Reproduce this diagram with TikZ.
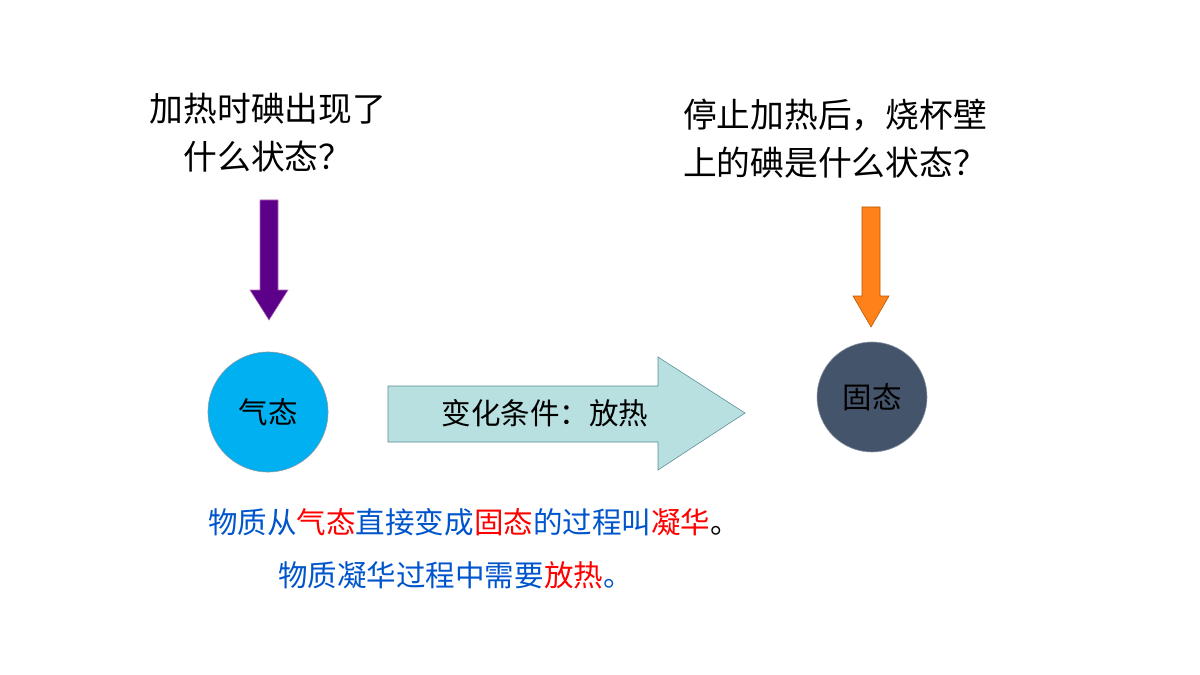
\documentclass[tikz,border=0pt]{standalone}
\usepackage{fontspec}
\newfontfamily\cjk{Noto Sans CJK SC}
\usetikzlibrary{positioning}
\definecolor{gasblue}{HTML}{00B0F0}
\definecolor{solidgrey}{HTML}{44546A}
\definecolor{flowfill}{HTML}{B8E0E0}
\definecolor{flowline}{HTML}{5A8A96}
\definecolor{txtblue}{HTML}{0055CC}
\definecolor{txtred}{HTML}{FF0000}
\begin{document}
\begin{tikzpicture}[x=0.025cm,y=-0.025cm]
    \tikzstyle{question}=[font=\cjk\fontsize{24}{34}\selectfont,align=center]
    \tikzstyle{state}=[circle,font=\cjk\fontsize{21}{25}\selectfont,draw=solidgrey!60]
    \tikzstyle{remark}=[font=\cjk\fontsize{21}{25}\selectfont,anchor=west,inner sep=0pt]
    \useasboundingbox (0,0) rectangle (1200,675);
    \node[question] (Q_left) at (268,133) {加热时碘出现了\\什么状态？};
    \node[question] (Q_right) at (835,139) {停止加热后，烧杯壁\\上的碘是什么状态？};
    \node[state,fill=gasblue,minimum size=120\pgflinewidth*0+3cm] (S_gas) at (268,412) {气态};
    \node[state,fill=solidgrey,minimum size=2.75cm] (S_solid) at (872,397) {固态};
    % pointer arrows
    \draw[fill=violet!80!blue!90!black,draw=violet!60] (260,200) -- (278,200) -- (278,290) -- (288,290) -- (269,320) -- (250,290) -- (260,290) -- cycle;
    \draw[fill=orange!90!red!90,draw=orange!70!black] (862,207) -- (880,207) -- (880,296) -- (889,296) -- (871,327) -- (853,296) -- (862,296) -- cycle;
    % process arrow
    \draw[fill=flowfill,draw=flowline] (388,386) -- (658,386) -- (658,357) -- (745,413) -- (658,470) -- (658,442) -- (388,442) -- cycle;
    \node[font=\cjk\fontsize{21}{25}\selectfont] (P_label) at (545,413) {变化条件：放热};
    \node[remark] (R_1) at (208,522) {\color{txtblue}物质从\color{txtred}气态\color{txtblue}直接变成\color{txtred}固态\color{txtblue}的过程叫\color{txtred}凝华\color{black}。};
    \node[remark] (R_2) at (278,575) {\color{txtblue}物质凝华过程中需要\color{txtred}放热\color{txtblue}。};
\end{tikzpicture}
\end{document}
